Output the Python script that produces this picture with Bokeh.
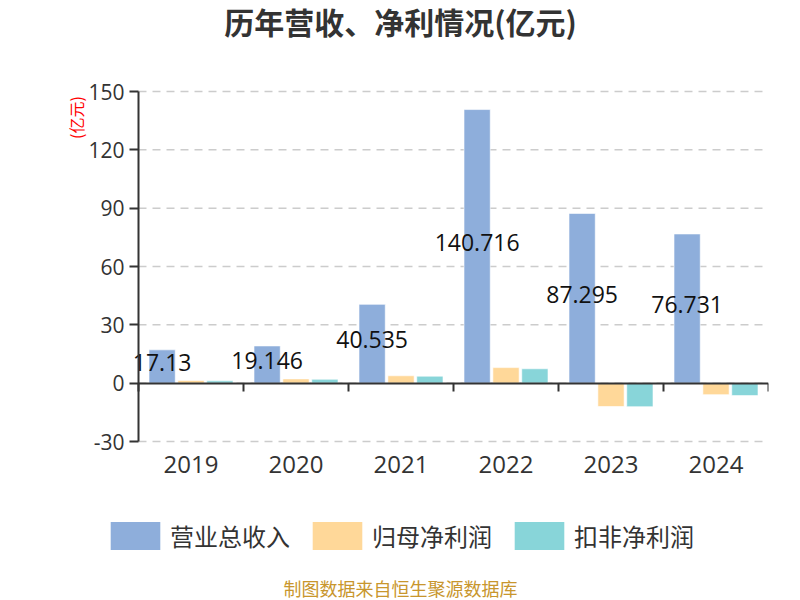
import math
from bokeh.plotting import figure
from bokeh.layouts import column
from bokeh.models import (Range1d, FixedTicker, LinearAxis, Legend, Label,
                          LegendItem, ColumnDataSource)
from bokeh.transform import dodge
from bokeh.core.properties import value
from bokeh.embed import file_html
from bokeh.resources import INLINE

# ---------------- data ----------------
years = ["2019", "2020", "2021", "2022", "2023", "2024"]
revenue = [17.13, 19.146, 40.535, 140.716, 87.295, 76.731]          # 营业总收入
net_profit = [1.4, 2.2, 3.8, 8.0, -12.0, -5.9]                       # 归母净利润
deducted_profit = [1.2, 2.0, 3.6, 7.4, -12.1, -6.4]                  # 扣非净利润
y_ticks = [-30, 0, 30, 60, 90, 120, 150]
y_tick_labels = ["-30", "0", "30", "60", "90", "120", "150"]
series_names = ["营业总收入", "归母净利润", "扣非净利润"]
colors = ["#8EAEDB", "#FFD899", "#88D5D9"]
title_text = "历年营收、净利情况(亿元)"
unit_text = "(亿元)"
source_text = "制图数据来自恒生聚源数据库"

CJK = "Noto Sans CJK SC"
NUM = "Open Sans"

# ---------------- layout (pixels) ----------------
W, H = 800, 600
H_MAIN = 510
H_LEG = H - H_MAIN
BORDER_LEFT = 56                      # frame starts here (y axis drawn inside at AXIS_X)
AXIS_X, FRAME_RIGHT = 138, 768
Y_TOP_PX, Y_BOTTOM_PX = 91, 441       # pixel rows of the top and bottom value ticks
FRAME_BOTTOM = 453
px_per_y = (Y_BOTTOM_PX - Y_TOP_PX) / (y_ticks[-1] - y_ticks[0])
px_per_x = (FRAME_RIGHT - AXIS_X) / len(years)
y_top = y_ticks[-1] + Y_TOP_PX / px_per_y                       # frame reaches canvas top
y_start = y_ticks[0] - (FRAME_BOTTOM - Y_BOTTOM_PX) / px_per_y
x_start = -0.5 - (AXIS_X - BORDER_LEFT) / px_per_x

idx = list(range(len(years)))
bounds_lo, bounds_hi = idx[0] - 0.5, idx[-1] + 0.5
src = ColumnDataSource(dict(
    x=idx,
    revenue=revenue,
    net=net_profit,
    ded=deducted_profit,
    label=[str(v) for v in revenue],
    label_y=[v / 2 for v in revenue],
))
grid_src = ColumnDataSource(dict(y=y_ticks, x0=[bounds_lo] * len(y_ticks), x1=[bounds_hi] * len(y_ticks)))

p = figure(width=W, height=H_MAIN, output_backend="svg", toolbar_location=None,
           x_range=Range1d(x_start, bounds_hi), y_range=Range1d(y_start, y_top),
           min_border_left=BORDER_LEFT, min_border_right=W - FRAME_RIGHT, min_border_top=0,
           min_border_bottom=H_MAIN - FRAME_BOTTOM,
           x_axis_location=None, y_axis_location=None)
p.outline_line_color = None
p.background_fill_color = "white"
p.border_fill_color = "white"
p.grid.visible = False

# ---- dashed value grid (only across the category area) ----
p.segment(x0="x0", x1="x1", y0="y", y1="y", source=grid_src,
          line_color="#cccccc", line_width=1.5, line_dash="8 6")

# ---- bars ----
offsets = [-0.275, 0.0, 0.275]
fields = ["revenue", "net", "ded"]
renderers = []
for off, fld, col in zip(offsets, fields, colors):
    r = p.vbar(x=dodge("x", off), top=fld, bottom=0, width=0.25, source=src,
               fill_color=col, line_color="white", line_alpha=0.6, line_width=1)
    renderers.append(r)

# ---- data labels ----
p.text(x=dodge("x", offsets[0]), y="label_y", text="label", source=src,
       text_align="center", text_baseline="middle", text_font=value(NUM),
       text_font_size="23px", text_color="#111111", y_offset=-4)

# ---- y axis (drawn at the left edge of the category area) ----
yaxis = LinearAxis(ticker=FixedTicker(ticks=y_ticks), bounds=(y_ticks[0], y_ticks[-1]),
                   fixed_location=bounds_lo,
                   major_label_overrides={t: s for t, s in zip(y_ticks, y_tick_labels)})
yaxis.axis_line_color = "#333333"
yaxis.axis_line_width = 2
yaxis.major_tick_line_color = "#333333"
yaxis.major_tick_line_width = 2
yaxis.major_tick_out = 9
yaxis.major_tick_in = 0
yaxis.minor_tick_out = 0
yaxis.minor_tick_in = 0
yaxis.major_label_standoff = 5
yaxis.major_label_text_font = NUM
yaxis.major_label_text_font_size = "21px"
yaxis.major_label_text_color = "#333333"
p.add_layout(yaxis, "left")

# ---- zero axis with boundary ticks ----
zaxis = LinearAxis(ticker=FixedTicker(ticks=[i - 0.5 for i in range(len(years) + 1)]),
                   fixed_location=0, bounds=(bounds_lo, bounds_hi))
zaxis.axis_line_color = "#333333"
zaxis.axis_line_width = 2
zaxis.major_tick_line_color = "#333333"
zaxis.major_tick_line_width = 2
zaxis.major_tick_out = 8
zaxis.major_tick_in = 0
zaxis.minor_tick_out = 0
zaxis.minor_tick_in = 0
zaxis.major_label_standoff = 0
zaxis.major_label_text_font_size = "0px"
zaxis.major_label_text_alpha = 0
p.add_layout(zaxis, "below")

# ---- category labels axis (below) ----
xaxis = LinearAxis(ticker=FixedTicker(ticks=idx),
                   major_label_overrides={i: y for i, y in zip(idx, years)})
xaxis.axis_line_color = None
xaxis.major_tick_line_color = None
xaxis.minor_tick_line_color = None
xaxis.major_tick_out = 0
xaxis.major_tick_in = 0
xaxis.major_label_standoff = 2
xaxis.major_label_text_font = NUM
xaxis.major_label_text_font_size = "24px"
xaxis.major_label_text_color = "#333333"
p.add_layout(xaxis, "below")

# ---- title and unit (inside the frame) ----
p.add_layout(Label(x=W / 2 - BORDER_LEFT, y=FRAME_BOTTOM - 20, x_units="screen", y_units="screen",
                   text=title_text, text_align="center", text_baseline="middle",
                   text_font=CJK, text_font_size="30px", text_font_style="bold",
                   text_color="#333333"))
p.add_layout(Label(x=75 - BORDER_LEFT, y=FRAME_BOTTOM - 117, x_units="screen", y_units="screen",
                   text=unit_text, angle=math.pi / 2, text_align="center", text_baseline="middle",
                   text_font=CJK, text_font_size="16px", text_color="#FF0000"))

# ---------------- legend + footer figure ----------------
q = figure(width=W, height=H_LEG, output_backend="svg", toolbar_location=None,
           x_range=Range1d(1000, 1001), y_range=Range1d(1000, 1001),
           min_border_left=BORDER_LEFT, min_border_right=W - FRAME_RIGHT, min_border_top=0,
           min_border_bottom=0, x_axis_location=None, y_axis_location=None)
q.outline_line_color = None
q.grid.visible = False
q.background_fill_color = "white"
q.border_fill_color = "white"
leg_renderers = []
for off, fld, col in zip(offsets, fields, colors):
    r = q.vbar(x=dodge("x", off), top=fld, bottom=0, width=0.25, source=src,
               fill_color=col, line_color=None)
    leg_renderers.append(r)

legend = Legend(items=[LegendItem(label=n, renderers=[r]) for n, r in zip(series_names, leg_renderers)],
                orientation="horizontal", location=(104 - BORDER_LEFT, 47))
legend.padding = 0
legend.margin = 0
legend.spacing = 16
legend.glyph_width = 62
legend.glyph_height = 35
legend.label_height = 35
legend.label_standoff = 4
legend.label_text_font = CJK
legend.label_text_font_size = "24px"
legend.label_text_color = "#333333"
legend.label_text_baseline = "middle"
legend.border_line_color = None
legend.background_fill_alpha = 0
q.add_layout(legend)

q.add_layout(Label(x=W / 2 - BORDER_LEFT, y=13, x_units="screen", y_units="screen", text=source_text,
                   text_align="center", text_baseline="middle", text_font=CJK,
                   text_font_size="18px", text_color="#C8962D"))

layout = column(p, q, spacing=0)
open("out.html", "w").write(file_html(layout, INLINE))
